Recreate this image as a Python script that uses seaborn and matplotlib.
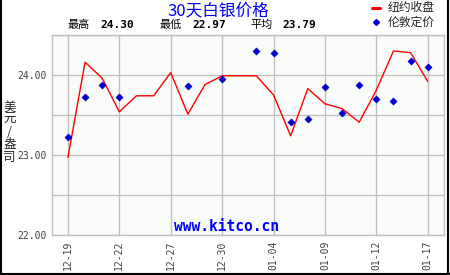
import numpy as np
import pandas as pd
import matplotlib
matplotlib.use("Agg")
import matplotlib.pyplot as plt
import seaborn as sns

dates = ["12-19", "12-20", "12-21", "12-22", "12-23", "12-26", "12-27", "12-28",
         "12-29", "12-30", "01-02", "01-03", "01-04", "01-05", "01-08", "01-09",
         "01-10", "01-11", "01-12", "01-15", "01-16", "01-17"]
ny_close = [22.97, 24.16, 23.96, 23.54, 23.74, 23.74, 24.03, 23.51, 23.88, 23.99,
            23.99, 23.99, 23.75, 23.24, 23.83, 23.64, 23.58, 23.41, 23.81, 24.30,
            24.28, 23.92]
london_fix = [23.23, 23.73, 23.88, 23.72, np.nan, np.nan, np.nan, 23.86, np.nan, 23.95,
              np.nan, 24.30, 24.28, 23.41, 23.45, 23.85, 23.52, 23.87, 23.70, 23.67,
              24.17, 24.10]
tick_every = 3
y_ticks = [22.0, 23.0, 24.0]
title = "30天白银价格"
stat_labels = ["最高", "最低", "平均"]
stat_values = ["24.30", "22.97", "23.79"]
legend_labels = ["纽约收盘", "伦敦定价"]
y_label = "美元/盎司"
watermark = "www.kitco.cn"

sns.set_theme(style="white")
plt.rcParams['font.family'] = ['Noto Sans CJK SC', 'DejaVu Sans']

df = pd.DataFrame({"idx": np.arange(len(dates)), "date": dates,
                   "ny": ny_close, "london": london_fix})

fig = plt.figure(figsize=(4.5, 2.75), dpi=100)
fig.patch.set_facecolor("white")
W, H = 450, 275
ax = fig.add_axes([52 / W, 1 - 235 / H, (444 - 52) / W, (235 - 35) / H])
ax.set_facecolor("#FAFCFA")

sns.lineplot(data=df, x="idx", y="ny", ax=ax, color="#FF0000", linewidth=1.0,
             legend=False)
sns.scatterplot(data=df.dropna(), x="idx", y="london", ax=ax, color="#0000CC",
                marker="D", s=14, edgecolor="#0000CC", linewidth=0.3, legend=False,
                zorder=3)

ax.set_xlim(-0.93, 21.95)
ax.set_ylim(22.0, 24.5)
yt = np.arange(22.0, 24.51, 0.5)
ax.set_yticks(yt)
ax.set_yticklabels([f"{v:.2f}" if v in y_ticks else "" for v in yt],
                   family="DejaVu Sans Mono", fontsize=7, color="#404040")
xt = list(range(0, len(dates), tick_every))
ax.set_xticks(xt)
ax.set_xticklabels([dates[i] for i in xt], rotation=90, family="DejaVu Sans Mono",
                   fontsize=7, color="#404040")
ax.tick_params(axis="both", length=0, pad=4)
ax.grid(True, color="#C0C0C0", linewidth=1.0)
ax.set_axisbelow(True)
for s in ax.spines.values():
    s.set_color("#C0C0C0")
    s.set_linewidth(1.0)
ax.set_xlabel("")
ax.set_ylabel("")

# title and stats
fig.text(218 / W, 1 - 11 / H, title, ha="center", va="center", color="#0000EE",
         fontsize=12)
xs = [68, 160, 250]
for lab, val, x in zip(stat_labels, stat_values, xs):
    fig.text(x / W, 1 - 25 / H, lab, ha="left", va="center", fontsize=8, color="black")
    fig.text((x + 32) / W, 1 - 25 / H, val, ha="left", va="center", fontsize=8,
             color="black", family="DejaVu Sans Mono", fontweight="bold")

# legend
fig.add_artist(plt.Line2D([372 / W, 380 / W], [1 - 8 / H, 1 - 8 / H], color="#FF0000",
                          linewidth=2.2, transform=fig.transFigure))
fig.add_artist(plt.Line2D([376 / W], [1 - 22 / H], marker="D", markersize=3,
                          color="#0000CC", transform=fig.transFigure))
fig.text(388 / W, 1 - 8 / H, legend_labels[0], ha="left", va="center", fontsize=8.5)
fig.text(388 / W, 1 - 22 / H, legend_labels[1], ha="left", va="center", fontsize=8.5)

# y label stacked
fig.text(9.5 / W, 1 - 132 / H, "\n".join(list(y_label)), ha="center", va="center",
         fontsize=9, linespacing=0.95)

# watermark
fig.text(226 / W, 1 - 234 / H, watermark, ha="center", va="bottom",
         color="#0000FF", family="DejaVu Sans Mono", fontweight="bold", fontsize=10.5)

# outer frame: left, right, bottom
for xsg, ysg in [([1 / W, 1 / W], [0, 1]), ([448 / W, 448 / W], [0, 1]),
                 ([0, 1], [1 / H, 1 / H])]:
    fig.add_artist(plt.Line2D(xsg, ysg, color="black", linewidth=1.5,
                              transform=fig.transFigure))

fig.savefig("out.png", dpi=100)
